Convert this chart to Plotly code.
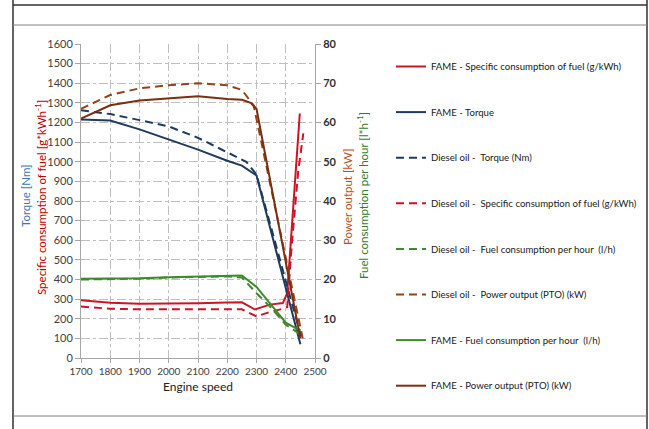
import plotly.graph_objects as go

# ---------------- data ----------------
fame_torque_x = [1700, 1800, 1900, 2000, 2100, 2200, 2250, 2300, 2450]
fame_torque_y = [1215, 1210, 1165, 1115, 1062, 1005, 980, 930, 70]

diesel_torque_x = [1700, 1800, 1900, 2000, 2100, 2200, 2265, 2300, 2455]
diesel_torque_y = [1262, 1243, 1212, 1180, 1122, 1050, 1000, 935, 95]

fame_sfc_x = [1700, 1800, 1900, 2000, 2100, 2200, 2250, 2295, 2345, 2390, 2405, 2448]
fame_sfc_y = [294, 282, 277, 277, 279, 283, 284, 247, 272, 280, 330, 1246]

diesel_sfc_x = [1700, 1800, 1900, 2000, 2100, 2200, 2250, 2300, 2345, 2390, 2405, 2420, 2443, 2460]
diesel_sfc_y = [262, 251, 248, 248, 248, 248, 248, 212, 234, 251, 260, 566, 957, 1144]

fame_power_x = [1700, 1800, 1900, 2000, 2100, 2200, 2250, 2280, 2300, 2450]
fame_power_y = [61.0, 64.4, 65.6, 66.1, 66.7, 66.0, 65.8, 65.0, 63.5, 5.0]

diesel_power_x = [1700, 1800, 1900, 2000, 2100, 2200, 2250, 2290, 2458]
diesel_power_y = [63.5, 67.0, 68.7, 69.5, 70.0, 69.5, 68.3, 64.4, 5.0]

fame_fuel_x = [1700, 1800, 1900, 2000, 2100, 2200, 2250, 2300, 2346, 2400, 2450]
fame_fuel_y = [20.2, 20.2, 20.3, 20.6, 20.8, 21.0, 21.0, 18.1, 13.8, 9.0, 7.0]

diesel_fuel_x = [1700, 1800, 1900, 2000, 2100, 2200, 2250, 2300, 2350, 2400, 2450]
diesel_fuel_y = [20.0, 20.1, 20.2, 20.5, 20.7, 20.8, 20.5, 16.5, 12.8, 8.5, 6.0]

x_ticks = [1700, 1800, 1900, 2000, 2100, 2200, 2300, 2400, 2500]

# ---------------- styling ----------------
RED = "#CC1424"
NAVY = "#1F3B5C"
GREEN = "#3F8A2E"
BROWN = "#7A2E12"
BROWN_D = "#94421A"
DASH = "8px,5px"
FONT = "Lato"

W_TOT, H_TOT = 649, 429
L, R, T, B = 81, 334, 44, 71
PW = W_TOT - L - R
PH = H_TOT - T - B


def px(x):
    return (x - L) / PW


def py(y):
    return (H_TOT - B - y) / PH


fig = go.Figure()

def add(name, x, y, color, dash, axis):
    fig.add_trace(go.Scatter(
        x=x, y=y, name=name, mode="lines", yaxis=axis,
        line=dict(color=color, width=2, dash=dash),
        legendgroup=name,
    ))

# legend order as in reference
add("FAME - Specific consumption of fuel (g/kWh)", fame_sfc_x, fame_sfc_y, RED, "solid", "y")
add("FAME - Torque", fame_torque_x, fame_torque_y, NAVY, "solid", "y")
add("Diesel oil -  Torque (Nm)", diesel_torque_x, diesel_torque_y, NAVY, DASH, "y")
add("Diesel oil -  Specific consumption of fuel (g/kWh)", diesel_sfc_x, diesel_sfc_y, RED, DASH, "y")
add("Diesel oil -  Fuel consumption per hour  (l/h)", diesel_fuel_x, diesel_fuel_y, GREEN, DASH, "y2")
add("Diesel oil -  Power output (PTO) (kW)", diesel_power_x, diesel_power_y, BROWN_D, DASH, "y2")
add("FAME - Fuel consumption per hour  (l/h)", fame_fuel_x, fame_fuel_y, GREEN, "solid", "y2")
add("FAME - Power output (PTO) (kW)", fame_power_x, fame_power_y, BROWN, "solid", "y2")

grid = dict(showgrid=True, gridcolor="#BFBFBF", gridwidth=1, griddash="dashdot")

fig.update_layout(
    width=W_TOT, height=H_TOT,
    margin=dict(l=L, r=R, t=T, b=B, autoexpand=False),
    paper_bgcolor="white", plot_bgcolor="white",
    font=dict(family=FONT, size=11, color="#404040"),
    xaxis=dict(
        range=[1700, 2500], tickvals=x_ticks, ticks="outside", ticklen=4,
        tickangle=0,
        tickcolor="#A6A6A6", showline=True, linecolor="#A6A6A6", linewidth=1,
        zeroline=False, tickfont=dict(size=10, color="#404040"),
        title=dict(text="Engine speed", font=dict(size=12, color="#202020"), standoff=6),
        automargin=False,
        **grid,
    ),
    yaxis=dict(
        range=[0, 1600], dtick=100, ticks="outside", ticklen=5,
        tickcolor="#A6A6A6", showline=True, linecolor="#A6A6A6", linewidth=1,
        zeroline=False, tickfont=dict(size=11, color="#404040"),
        automargin=False,
        **grid,
    ),
    yaxis2=dict(
        range=[0, 80], dtick=10, overlaying="y", side="right",
        ticks="outside", ticklen=5, tickcolor="#A6A6A6",
        showline=True, linecolor="#A6A6A6", linewidth=1, zeroline=False,
        showgrid=False, tickfont=dict(size=11, color="#303030", weight="bold"),
        automargin=False,
    ),
    legend=dict(
        x=px(391), y=py(52), xanchor="left", yanchor="top",
        font=dict(size=9.6, color="#202020", family=FONT),
        traceorder="grouped", tracegroupgap=26.6, itemwidth=30,
        bgcolor="rgba(0,0,0,0)", maxheight=420,
    ),
)

# axis titles
ann = [
    dict(text="Torque [Nm]", x=px(25), y=py(196), color="#3C78B4"),
    dict(text="Specific consumption of fuel [g*kWh<sup>-1</sup>]", x=px(40), y=py(198), color="#C00000"),
    dict(text="Power output [kW]", x=px(347), y=py(197), color="#B5541C"),
    dict(text="Fuel consumption per hour [l*h<sup>-1</sup>]", x=px(362), y=py(196), color="#2E7D32"),
]
for a in ann:
    fig.add_annotation(
        text=a["text"], x=a["x"], y=a["y"], xref="paper", yref="paper",
        textangle=-90, showarrow=False, xanchor="center", yanchor="middle",
        font=dict(size=11.5, color=a["color"], family=FONT),
    )

# outer frame
frame = [
    (13, 0, 13, 429, "#303030", 1.5),
    (647, 0, 647, 429, "#303030", 1.5),
    (13, 5, 647, 5, "#303030", 1.5),
    (13, 25, 647, 25, "#808080", 1),
    (13, 416, 647, 416, "#808080", 1),
]
for x0, y0, x1, y1, c, w in frame:
    fig.add_shape(type="line", xref="paper", yref="paper",
                  x0=px(x0), y0=py(y0), x1=px(x1), y1=py(y1),
                  line=dict(color=c, width=w))

fig.write_html("out.html")
